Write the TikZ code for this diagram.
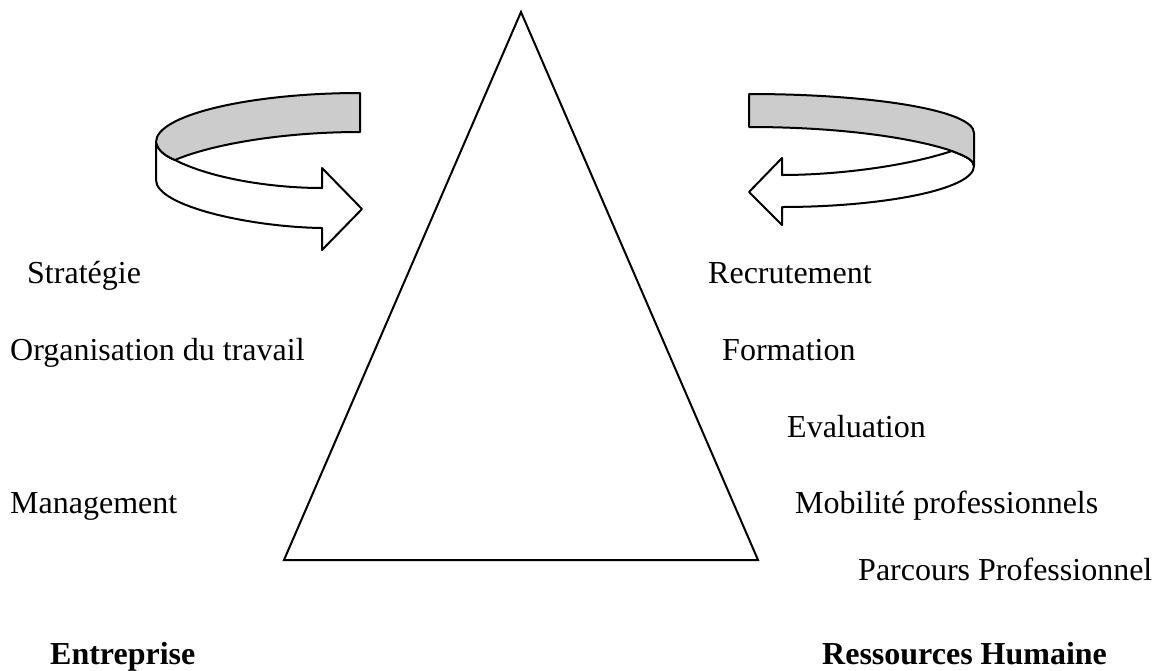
\documentclass[tikz,border=0pt]{standalone}
\usepackage{fontspec}
\setmainfont{Liberation Serif}
\begin{document}
\begin{tikzpicture}[x=1pt,y=-1pt,
  label/.style={anchor=base west,inner sep=0pt,font=\fontsize{32}{38}\selectfont},
  heading/.style={label,font=\fontsize{32}{38}\selectfont\bfseries},
  band/.style={draw=black,line width=2pt,line join=round},
  outline/.style={draw=black,line width=2pt,line join=miter}]
\useasboundingbox (0,0) rectangle (1155,670);

% central triangle
\coordinate (apex) at (521,12);
\coordinate (bl) at (284,560);
\coordinate (br) at (758,560);
\draw[outline] (apex) -- (bl) -- (br) -- cycle;

% left turning arrow
\coordinate (la) at (360,93);
\coordinate (lb) at (360,132);
\coordinate (l1) at (156,142);
\coordinate (lf) at (175,160);
\coordinate (l2) at (156,180);
\coordinate (ls1) at (322,188);
\coordinate (ln1) at (322,168);
\coordinate (lt) at (362,209);
\coordinate (ln2) at (322,250);
\coordinate (ls2) at (322,228);
\filldraw[band,fill=white] (l1) -- (l2)
  .. controls (156,206) and (250,227) .. (ls2)
  -- (ln2) -- (lt) -- (ln1) -- (ls1)
  .. controls (270,188) and (210,178) .. (lf)
  .. controls (168,157) and (158,152) .. (l1) -- cycle;
\filldraw[band,fill=black!20] (la)
  .. controls (250,93) and (156,115) .. (l1)
  .. controls (158,152) and (168,157) .. (lf)
  .. controls (210,145) and (280,132) .. (lb) -- cycle;

% right turning arrow
\coordinate (ra) at (749,94);
\coordinate (rb) at (749,127);
\coordinate (r1) at (974,133);
\coordinate (r2) at (974,166);
\coordinate (rf) at (952,151);
\coordinate (rs1) at (782,175);
\coordinate (rn1) at (782,158);
\coordinate (rt) at (749,192);
\coordinate (rn2) at (782,225);
\coordinate (rs2) at (782,207);
\filldraw[band,fill=white] (r2)
  .. controls (974,190) and (880,207) .. (rs2)
  -- (rn2) -- (rt) -- (rn1) -- (rs1)
  .. controls (830,175) and (900,168) .. (rf)
  .. controls (965,156) and (974,160) .. (r2) -- cycle;
\filldraw[band,fill=black!20] (ra)
  .. controls (870,94) and (974,110) .. (r1) -- (r2)
  .. controls (974,160) and (965,156) .. (rf)
  .. controls (920,140) and (850,127) .. (rb) -- cycle;

% company side
\node[label] (strat) at (27,283) {Stratégie};
\node[label] (orga) at (10,360) {Organisation du travail};
\node[label] (mgmt) at (10,513) {Management};
\node[heading] (ent) at (50,664) {Entreprise};

% human resources side
\node[label] (recr) at (708,283) {Recrutement};
\node[label] (form) at (722,360) {Formation};
\node[label] (eval) at (787,437) {Evaluation};
\node[label] (mob) at (795,513) {Mobilité professionnels};
\node[label] (parc) at (858,580) {Parcours Professionnel};
\node[heading] (rh) at (822,664) {Ressources Humaine};
\end{tikzpicture}
\end{document}
